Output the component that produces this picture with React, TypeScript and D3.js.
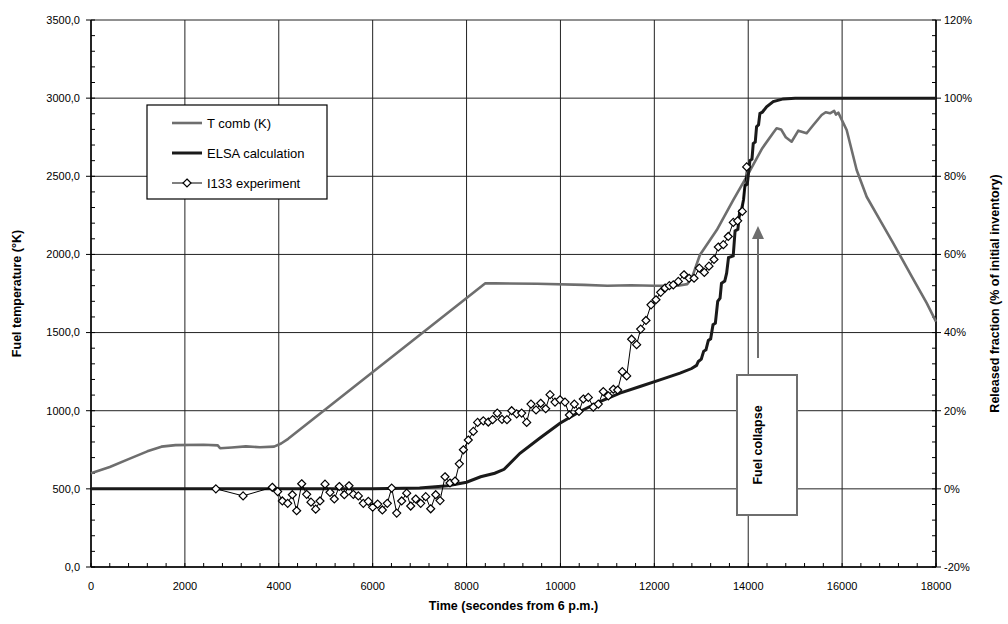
import * as d3 from "d3";

// T comb (K) - fuel temperature, left axis
const combTime = [0, 400, 800, 1200, 1500, 1800, 2400, 2700, 2750, 3000, 3300, 3600, 3900, 4050, 4200, 8400, 8600, 9500, 10500, 11000, 11500, 12000, 12500, 12700, 12800, 12970, 13330, 13680, 14000, 14300, 14530, 14605, 14700, 14800, 14924, 15067, 15245, 15387, 15564, 15650, 15742, 15830, 15870, 15919, 16097, 16310, 16523, 16807, 17091, 17500, 17800, 18000];
const combTemp = [600, 640, 690, 740, 770, 780, 782, 778, 760, 765, 772, 766, 770, 790, 820, 1815, 1815, 1812, 1805, 1800, 1803, 1800, 1800, 1810, 1850, 1996, 2156, 2348, 2515, 2680, 2777, 2807, 2800, 2750, 2721, 2792, 2775, 2828, 2892, 2910, 2903, 2918, 2895, 2907, 2796, 2540, 2369, 2220, 2071, 1850, 1690, 1570];

// ELSA calculation - released fraction (%), right axis
const elsaTime = [0, 6000, 7000, 7600, 8000, 8300, 8600, 8800, 9138, 9564, 9990, 10416, 10842, 11268, 11694, 12120, 12547, 12795, 12900, 12937, 13000, 13050, 13100, 13150, 13200, 13250, 13300, 13350, 13400, 13430, 13500, 13540, 13580, 13680, 13720, 13780, 13820, 13860, 13900, 13930, 13980, 14036, 14080, 14107, 14150, 14178, 14220, 14249, 14300, 14391, 14533, 14746, 15000, 18000];
const elsaPct = [0, 0, 0.2, 0.8, 1.7, 3.1, 4.0, 5.0, 9.1, 13.0, 16.8, 19.8, 22.3, 24.5, 26.2, 27.9, 29.6, 30.8, 31.6, 32.6, 33.2, 35.2, 35.6, 38.0, 38.4, 42.0, 42.4, 48.0, 48.8, 52.6, 53.2, 55.2, 59.2, 59.6, 66.0, 66.4, 71.2, 71.6, 74.0, 77.6, 78.0, 84.0, 84.4, 88.4, 88.8, 92.7, 93.2, 96.1, 96.4, 97.8, 99.1, 99.8, 100, 100];

// I133 experiment - released fraction (%), right axis
const expTime = [2660, 3240, 3862, 3976, 4076, 4190, 4289, 4381, 4488, 4594, 4686, 4786, 4878, 4985, 5091, 5183, 5289, 5396, 5496, 5588, 5695, 5801, 5908, 6000, 6107, 6206, 6312, 6405, 6512, 6618, 6725, 6810, 6917, 7023, 7130, 7236, 7343, 7435, 7541, 7647, 7754, 7846, 7932, 8037, 8144, 8236, 8357, 8463, 8556, 8655, 8755, 8861, 8961, 9068, 9174, 9281, 9373, 9480, 9579, 9686, 9778, 9884, 9990, 10097, 10190, 10296, 10395, 10487, 10594, 10700, 10807, 10913, 11020, 11126, 11219, 11318, 11411, 11516, 11623, 11709, 11822, 11929, 12035, 12135, 12228, 12320, 12404, 12511, 12632, 12740, 12846, 12958, 13065, 13164, 13271, 13363, 13470, 13575, 13682, 13775, 13874, 13967];
const expPct = [0, -1.8, 0.4, -0.7, -3.1, -3.7, -1.5, -5.6, 1.3, -1.4, -3.4, -5.2, -3.1, 1.2, -0.9, -2.6, 0.6, -1.5, 0.8, -1.4, -1.8, -3.7, -3.2, -4.7, -3.9, -5.4, -3.7, 0.2, -6.2, -3.1, -1.1, -4.4, -2.6, -3.7, -2.0, -5.1, -1.5, -3.0, 3.1, 1.5, 2.0, 6.4, 10.0, 12.5, 14.7, 17.0, 17.4, 17.1, 17.7, 19.4, 17.8, 17.7, 20.0, 19.2, 19.4, 17.0, 21.7, 20.2, 21.9, 20.5, 24.1, 22.2, 22.8, 22.2, 18.9, 21.7, 19.8, 23.0, 23.4, 20.9, 21.7, 24.9, 23.8, 25.5, 25.3, 30.0, 28.9, 38.3, 36.9, 40.9, 43.1, 47.1, 48.4, 50.3, 51.4, 52.0, 52.2, 53.1, 54.8, 53.9, 53.9, 56.5, 55.4, 57.0, 58.7, 61.9, 62.5, 64.6, 68.2, 68.6, 71.0, 82.4];

const xTicks = [0, 2000, 4000, 6000, 8000, 10000, 12000, 14000, 16000, 18000];
const tempTicks = [0, 500, 1000, 1500, 2000, 2500, 3000, 3500];
const pctTicks = [-20, 0, 20, 40, 60, 80, 100, 120];
const legendLabels = ["T comb (K)", "ELSA calculation", "I133 experiment"];
const collapseTime = 14208;

const W = 1008;
const H = 624;
const margin = { top: 20, right: 72, bottom: 57, left: 91 };
const innerW = W - margin.left - margin.right;
const innerH = H - margin.top - margin.bottom;
const font = "'Liberation Sans', Arial, sans-serif";
const grey = "#6e6e6e";

export default function App() {
  const x = d3.scaleLinear().domain([0, 18000]).range([0, innerW]);
  const yT = d3.scaleLinear().domain([0, 3500]).range([innerH, 0]);
  const yP = d3.scaleLinear().domain([-20, 120]).range([innerH, 0]);

  const combLine = d3
    .line<number>()
    .x((_, i) => x(combTime[i]))
    .y((d) => yT(d));
  const pctLine = (times: number[]) =>
    d3
      .line<number>()
      .x((_, i) => x(times[i]))
      .y((d) => yP(d));

  const diamond = "M0,-4L4,0L0,4L-4,0Z";
  const minorX = d3.range(0, 18001, 400);
  const minorT = d3.range(0, 3501, 100);
  const minorP = d3.range(-20, 121, 4);

  const lx = 147;
  const ly = 105;
  const lw = 180;
  const lh = 94;

  const arrowX = x(collapseTime);

  return (
    <svg width={W} height={H} style={{ display: "block", position: "absolute", left: 0, top: 0 }}>
      <rect width={W} height={H} fill="#fff" />
      <g transform={`translate(${margin.left},${margin.top})`} fontFamily={font}>
        {/* grid */}
        {tempTicks.map((t) => (
          <line key={"gh" + t} x1={0} x2={innerW} y1={yT(t)} y2={yT(t)} stroke="#222" strokeWidth={1} />
        ))}
        {xTicks.map((t) => (
          <line key={"gv" + t} x1={x(t)} x2={x(t)} y1={0} y2={innerH} stroke="#222" strokeWidth={1} />
        ))}

        {/* minor ticks */}
        {minorX.map((t) => (
          <line key={"mx" + t} x1={x(t)} x2={x(t)} y1={innerH} y2={innerH - 4} stroke="#000" />
        ))}
        {minorT.map((t) => (
          <line key={"mt" + t} x1={0} x2={4} y1={yT(t)} y2={yT(t)} stroke="#000" />
        ))}
        {minorP.map((t) => (
          <line key={"mp" + t} x1={innerW} x2={innerW - 4} y1={yP(t)} y2={yP(t)} stroke="#000" />
        ))}

        {/* axes */}
        <line x1={0} x2={0} y1={0} y2={innerH} stroke="#000" strokeWidth={1.5} />
        <line x1={innerW} x2={innerW} y1={0} y2={innerH} stroke="#000" strokeWidth={1.5} />
        <line x1={0} x2={innerW} y1={innerH} y2={innerH} stroke="#000" strokeWidth={1.5} />

        {tempTicks.map((t) => (
          <g key={"lt" + t}>
            <line x1={-5} x2={0} y1={yT(t)} y2={yT(t)} stroke="#000" />
            <text x={-11} y={yT(t)} dy="0.35em" textAnchor="end" fontSize={11}>
              {d3.format(".1f")(t).replace(".", ",")}
            </text>
          </g>
        ))}
        {pctTicks.map((t) => (
          <g key={"rt" + t}>
            <line x1={innerW} x2={innerW + 5} y1={yP(t)} y2={yP(t)} stroke="#000" />
            <text x={innerW + 8} y={yP(t)} dy="0.35em" textAnchor="start" fontSize={11}>
              {t + "%"}
            </text>
          </g>
        ))}
        {xTicks.map((t) => (
          <text key={"xt" + t} x={x(t)} y={innerH + 19} dy="0.35em" textAnchor="middle" fontSize={11}>
            {t}
          </text>
        ))}

        {/* titles */}
        <text x={innerW / 2} y={innerH + 39} dy="0.35em" textAnchor="middle" fontSize={12.5} fontWeight="bold">
          Time (secondes from 6 p.m.)
        </text>
        <text transform={`translate(${-74},${innerH / 2}) rotate(-90)`} textAnchor="middle" dy="0.35em" fontSize={12.5} fontWeight="bold">
          Fuel temperature (°K)
        </text>
        <text transform={`translate(${innerW + 59},${innerH / 2}) rotate(-90)`} textAnchor="middle" dy="0.35em" fontSize={12.5} fontWeight="bold">
          Released fraction (% of initial inventory)
        </text>

        {/* series */}
        <path d={combLine(combTemp) || ""} fill="none" stroke={grey} strokeWidth={2.6} strokeLinejoin="round" />
        <path d={pctLine(elsaTime)(elsaPct) || ""} fill="none" stroke="#1a1a1a" strokeWidth={3} strokeLinejoin="miter" />
        <path d={pctLine(expTime)(expPct) || ""} fill="none" stroke="#000" strokeWidth={1} />
        {expPct.map((p, i) => (
          <path key={"e" + i} d={diamond} transform={`translate(${x(expTime[i])},${yP(p)})`} fill="#fff" stroke="#000" strokeWidth={1.2} />
        ))}

        {/* fuel collapse annotation */}
        <line x1={arrowX} x2={arrowX} y1={338} y2={215} stroke={grey} strokeWidth={2} />
        <path d={`M${arrowX},${206}L${arrowX + 6},${219}L${arrowX - 6},${219}Z`} fill={grey} />
        <rect x={646} y={355} width={60} height={140} fill="#fff" stroke={grey} strokeWidth={2} />
        <text transform={`translate(${arrowX + 0},${425}) rotate(-90)`} textAnchor="middle" dy="0.35em" fontSize={12.5} fontWeight="bold">
          Fuel collapse
        </text>
      </g>

      {/* legend */}
      <g fontFamily={font}>
        <rect x={lx} y={ly} width={lw} height={lh} fill="#fff" stroke="#000" strokeWidth={1.2} />
        {legendLabels.map((lab, i) => {
          const yy = ly + 18 + i * 30;
          return (
            <g key={lab}>
              <line x1={lx + 25} x2={lx + 55} y1={yy} y2={yy} stroke={i === 0 ? grey : i === 1 ? "#1a1a1a" : "#000"} strokeWidth={i === 0 ? 2.6 : i === 1 ? 3 : 1} />
              {i === 2 && <path d={diamond} transform={`translate(${lx + 40},${yy})`} fill="#fff" stroke="#000" strokeWidth={1.2} />}
              <text x={lx + 60} y={yy} dy="0.35em" fontSize={13}>
                {lab}
              </text>
            </g>
          );
        })}
      </g>
    </svg>
  );
}
